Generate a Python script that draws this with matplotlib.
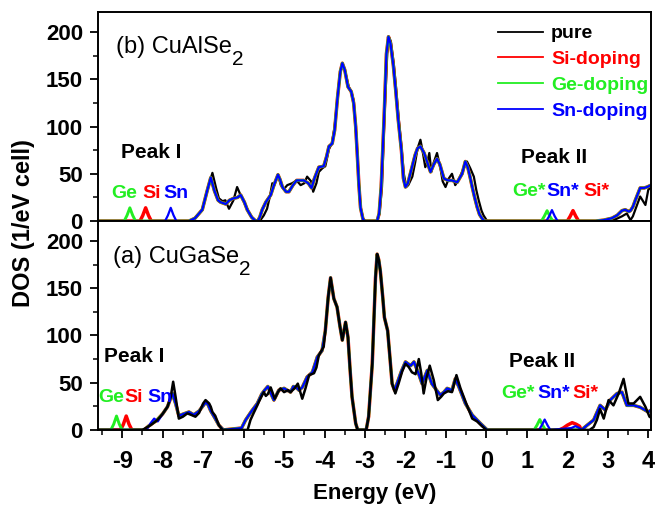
import numpy as np
import matplotlib
matplotlib.use("Agg")
import matplotlib.pyplot as plt
from matplotlib.ticker import MultipleLocator

plt.rcParams['font.family'] = ['Liberation Sans', 'DejaVu Sans']

# colores
c_pure = 'black'
c_si = '#ff0000'
c_ge = '#22ee22'
c_sn = '#0000ff'

# ---------- (b) CuAlSe2 : puro ----------
b_pure_E = [-9.6, -7.35, -7.2, -7.02, -6.9, -6.77, -6.68, -6.61, -6.52, -6.45, -6.36, -6.25, -6.16, -6.08,
            -5.99, -5.9, -5.8, -5.72, -5.6, -5.5, -5.42, -5.35, -5.29, -5.24, -5.21, -5.15, -5.08, -5.0,
            -4.92, -4.8, -4.69, -4.59, -4.5, -4.43, -4.33, -4.28, -4.2, -4.14, -4.05, -3.98, -3.89, -3.82,
            -3.75, -3.68, -3.62, -3.56, -3.5, -3.4, -3.34, -3.28, -3.23, -3.19, -3.15, -3.11, -3.05, -3.0,
            -2.7, -2.64, -2.58, -2.52, -2.45, -2.41, -2.36, -2.29, -2.23, -2.17, -2.1, -2.04, -1.98, -1.93,
            -1.83, -1.76, -1.7, -1.63, -1.58, -1.51, -1.46, -1.41, -1.36, -1.3, -1.22, -1.14, -1.08, -1.01,
            -0.93, -0.85, -0.77, -0.68, -0.6, -0.48, -0.4, -0.31, -0.25, -0.19, -0.12, -0.07, 0.02,
            2.9, 3.2, 3.35, 3.47, 3.56, 3.62, 3.68, 3.8, 3.93, 4.0, 4.07]
b_pure_D = [0, 0, 3, 12, 32, 51, 35, 24, 21, 22, 13, 22, 36, 28,
            20, 12, 4, 0, 0, 6, 13, 26, 40, 38, 42, 49, 38, 34,
            38, 40, 43, 38, 40, 47, 42, 31, 40, 52, 56, 58, 76, 82,
            100, 130, 155, 167, 160, 142, 137, 128, 100, 72, 40, 15, 3, 0,
            0, 8, 36, 107, 177, 195, 190, 167, 140, 110, 80, 50, 36, 38,
            47, 62, 77, 86, 75, 57, 62, 72, 52, 62, 72, 57, 42, 36,
            45, 50, 38, 44, 52, 63, 56, 47, 33, 22, 11, 6, 0,
            0, 2, 5, 8, 1, 5, 12, 26, 17, 33, 36]

# (b) dopados: banda de valencia comun
b_dop_vb_E = [-7.35, -7.2, -7.02, -6.9, -6.81, -6.72, -6.63, -6.57, -6.44, -6.35, -6.25, -6.15, -6.07, -5.98,
              -5.91, -5.8, -5.7, -5.65, -5.6, -5.54, -5.45, -5.33, -5.25, -5.15, -5.1, -5.04, -4.95, -4.88,
              -4.78, -4.69, -4.6, -4.51, -4.4, -4.32, -4.25, -4.14, -4.02, -3.95, -3.89, -3.81, -3.75, -3.68,
              -3.61, -3.56, -3.5, -3.42, -3.34, -3.28, -3.23, -3.19, -3.15, -3.11, -3.05, -3.0,
              -2.7, -2.65, -2.6, -2.53, -2.47, -2.42, -2.37, -2.3, -2.24, -2.18, -2.1, -2.05, -2.0, -1.94,
              -1.85, -1.76, -1.7, -1.63, -1.54, -1.46, -1.38, -1.3, -1.22, -1.15, -1.05, -0.95, -0.85, -0.72,
              -0.6, -0.52, -0.46, -0.4, -0.35, -0.29, -0.23, -0.17, -0.11, -0.05]
b_dop_vb_D = [0, 3, 12, 32, 46, 32, 22, 20, 18, 22, 24, 25, 27.5, 20,
              12, 4, 0, 0, 4, 12, 20, 27.5, 38, 49, 44, 36, 31, 31,
              38, 43, 43, 43, 40, 35, 45, 57, 58, 68, 79, 82, 96, 130,
              158, 167, 160, 142, 137, 125, 100, 70, 38, 14, 2, 0,
              0, 8, 36, 107, 177, 195, 188, 165, 138, 108, 75, 45, 36, 40,
              55, 70, 77, 79, 72, 62, 52, 60, 66, 60, 45, 43, 43, 41,
              50, 63, 57, 46, 36, 25, 15, 7, 3, 0]
b_dop_cb_E = [2.7, 2.9, 3.1, 3.23, 3.35, 3.43, 3.52, 3.56, 3.62, 3.68, 3.8, 3.9, 3.97, 4.07]
b_dop_cb_D = [0, 1, 3, 6, 11, 12, 10, 11, 15, 22, 35, 35, 36, 38]

# (b) picos de impureza
b_ge_lo_E = [-9.6, -8.95, -8.88, -8.81, -8.74, -8.67]
b_ge_lo_D = [0, 0, 6, 14, 6, 0]
b_ge_gap_E = [0.5, 1.36, 1.43, 1.5, 1.57, 1.64]
b_ge_gap_D = [0, 0, 5, 11, 5, 0]
b_si_lo_E = [-9.6, -8.56, -8.49, -8.42, -8.35, -8.28]
b_si_lo_D = [0, 0, 6, 14, 6, 0]
b_si_gap_E = [0.5, 2.0, 2.07, 2.14, 2.21, 2.28]
b_si_gap_D = [0, 0, 5, 11, 5, 0]
b_sn_lo_E = [-9.6, -7.94, -7.87, -7.8, -7.73, -7.66]
b_sn_lo_D = [0, 0, 6, 14, 6, 0]
b_sn_gap_E = [0.5, 1.48, 1.55, 1.62, 1.69, 1.76]
b_sn_gap_D = [0, 0, 5, 11.6, 5, 0]

# ---------- (a) CuGaSe2 : puro ----------
a_pure_E = [-9.6, -8.5, -8.42, -8.3, -8.13, -8.0, -7.88, -7.8, -7.74, -7.68, -7.6, -7.5, -7.39, -7.3,
            -7.19, -7.1, -7.0, -6.94, -6.85, -6.81, -6.77, -6.7, -6.61, -6.52, -5.9, -5.83, -5.75, -5.66,
            -5.62, -5.55, -5.5, -5.45, -5.4, -5.33, -5.23, -5.15, -5.09, -5.0, -4.9, -4.84, -4.74, -4.66,
            -4.55, -4.47, -4.38, -4.26, -4.2, -4.14, -4.02, -3.98, -3.91, -3.85, -3.77, -3.69, -3.62, -3.56,
            -3.48, -3.42, -3.37, -3.32, -3.23, -3.18, -2.97, -2.91, -2.82, -2.74, -2.7, -2.66, -2.62, -2.56,
            -2.52, -2.44, -2.38, -2.33, -2.25, -2.17, -2.08, -2.0, -1.92, -1.84, -1.75, -1.67, -1.61, -1.55,
            -1.48, -1.4, -1.3, -1.2, -1.12, -1.05, -0.95, -0.85, -0.74, -0.64, -0.56, -0.48, -0.35, -0.23,
            -0.11, 0.0, 2.55, 2.65, 2.73, 2.81, 2.9, 3.02, 3.14, 3.27, 3.39, 3.51, 3.64, 3.8, 3.93, 4.03, 4.07]
a_pure_D = [0, 0, 2, 5, 10.5, 17, 24.5, 35, 51, 35, 12, 14, 17.5, 16,
            14, 18, 28, 31.6, 28, 24.5, 19, 15, 5, 0, 0, 10.5, 18, 26,
            30, 36, 40, 36, 38, 45, 33, 40, 44, 40, 42, 40, 44, 49,
            33, 44, 58, 60, 66, 79, 88, 105, 140, 161, 139, 130, 110, 95,
            114, 98, 65, 35, 7, 0, 0, 14, 70, 161, 186, 180, 168, 140,
            119, 105, 75, 49, 38.6, 49, 62, 70, 66.6, 61, 59, 75, 60, 38.6,
            55, 68, 52.6, 31.6, 35, 38.6, 41, 40, 58, 44, 35, 26, 12, 9,
            4, 0, 0, 3, 10.5, 22, 12, 31.6, 26, 38.6, 54, 28, 28, 35, 24.5, 14, 13]

# (a) dopados: banda de valencia comun
a_dop_vb_E = [-8.0, -7.88, -7.76, -7.68, -7.6, -7.48, -7.35, -7.23, -7.1, -7.02, -6.94, -6.88, -6.81, -6.7,
              -6.61, -6.5, -6.05, -5.95, -5.8, -5.66, -5.55, -5.48, -5.4, -5.32, -5.25, -5.13, -5.0, -4.92,
              -4.84, -4.77, -4.7, -4.63, -4.55, -4.43, -4.3, -4.18, -4.06, -3.98, -3.91, -3.85, -3.77, -3.69,
              -3.62, -3.56, -3.48, -3.42, -3.37, -3.32, -3.23, -3.18, -2.97, -2.91, -2.82, -2.74, -2.7, -2.66,
              -2.62, -2.56, -2.52, -2.44, -2.38, -2.33, -2.27, -2.2, -2.1, -2.0, -1.87, -1.79, -1.67, -1.59,
              -1.46, -1.35, -1.23, -1.14, -1.05, -0.97, -0.85, -0.77, -0.68, -0.52, -0.35, -0.15, 0.02]
a_dop_vb_D = [17, 24.5, 38.6, 28, 15, 17, 19, 16, 20, 24.5, 29, 27, 20, 12,
              5, 0, 2, 10.5, 20, 28, 38, 42, 46, 38, 31.6, 42, 44, 42,
              40, 46, 45, 42, 45, 56, 61, 77, 84, 105, 140, 161, 139, 130,
              110, 95, 114, 98, 65, 35, 7, 0, 0, 14, 70, 161, 186, 180,
              168, 140, 119, 105, 75, 49, 42, 50, 62, 72, 68, 72, 59, 49,
              63, 49, 42, 37, 40, 44, 42, 54, 45.6, 28, 15.8, 7, 0]
a_dop_cb_E = [2.35, 2.49, 2.65, 2.81, 2.94, 3.06, 3.23, 3.35, 3.47, 3.64, 3.8, 4.0, 4.07]
a_dop_cb_D = [0, 5, 10.5, 26, 21, 31.6, 38.6, 40, 26, 26, 24, 19, 21]

# (a) picos de impureza y borde de banda
a_ge_lo_E = [-9.6, -9.28, -9.21, -9.14, -9.07, -9.0, -8.45, -8.35, -8.15]
a_ge_lo_D = [0, 0, 6, 14.7, 6, 0, 0, 4, 10]
a_ge_gap_E = [0.5, 1.18, 1.25, 1.32, 1.39, 1.46]
a_ge_gap_D = [0, 0, 5, 11, 5, 0]
a_si_lo_E = [-9.6, -9.04, -8.97, -8.9, -8.83, -8.76, -8.45, -8.35, -8.15]
a_si_lo_D = [0, 0, 6, 14.7, 6, 0, 0, 4, 10]
a_si_gap_E = [0.5, 1.8, 1.9, 2.0, 2.12, 2.22, 2.3]
a_si_gap_D = [0, 0, 2, 5, 7.7, 6, 4]
a_sn_lo_E = [-9.6, -8.4, -8.3, -8.21, -8.12]
a_sn_lo_D = [0, 0, 7, 12, 9]
a_sn_gap_E = [0.5, 1.3, 1.37, 1.44, 1.51, 1.58, 2.1, 2.2, 2.3]
a_sn_gap_D = [0, 0, 5, 11, 5, 0, 2, 4, 2]

x_ticks = [-9, -8, -7, -6, -5, -4, -3, -2, -1, 0, 1, 2, 3, 4]
y_ticks = [0, 50, 100, 150, 200]

fig = plt.figure(figsize=(6.57, 5.07), dpi=100)
ax_b = fig.add_axes([0.149, 0.564, 0.842, 0.412])
ax_a = fig.add_axes([0.149, 0.152, 0.842, 0.412], sharex=ax_b)

lw = 1.6

# panel (b): negro debajo
ax_b.plot(b_pure_E, b_pure_D, color=c_pure, lw=lw, label='pure')
ax_b.plot(b_si_lo_E + b_dop_vb_E + b_si_gap_E + b_dop_cb_E,
          b_si_lo_D + b_dop_vb_D + b_si_gap_D + b_dop_cb_D, color=c_si, lw=lw + 0.9, label='Si-doping')
ax_b.plot(b_ge_lo_E + b_dop_vb_E + b_ge_gap_E + b_dop_cb_E,
          b_ge_lo_D + b_dop_vb_D + b_ge_gap_D + b_dop_cb_D, color=c_ge, lw=lw + 0.5, label='Ge-doping')
ax_b.plot(b_sn_lo_E + b_dop_vb_E + b_sn_gap_E + b_dop_cb_E,
          b_sn_lo_D + b_dop_vb_D + b_sn_gap_D + b_dop_cb_D, color=c_sn, lw=lw, label='Sn-doping')

# panel (a): negro encima
ax_a.plot(a_si_lo_E + a_dop_vb_E + a_si_gap_E + a_dop_cb_E,
          a_si_lo_D + a_dop_vb_D + a_si_gap_D + a_dop_cb_D, color=c_si, lw=lw + 0.9)
ax_a.plot(a_ge_lo_E + a_dop_vb_E + a_ge_gap_E + a_dop_cb_E,
          a_ge_lo_D + a_dop_vb_D + a_ge_gap_D + a_dop_cb_D, color=c_ge, lw=lw + 0.5)
ax_a.plot(a_sn_lo_E + a_dop_vb_E + a_sn_gap_E + a_dop_cb_E,
          a_sn_lo_D + a_dop_vb_D + a_sn_gap_D + a_dop_cb_D, color=c_sn, lw=lw)
ax_a.plot(a_pure_E, a_pure_D, color=c_pure, lw=lw + 0.2)

for ax in (ax_b, ax_a):
    ax.set_xlim(-9.6, 4.07)
    ax.set_ylim(0, 221)
    ax.set_yticks(y_ticks)
    ax.yaxis.set_minor_locator(MultipleLocator(25))
    ax.set_xticks(x_ticks)
    ax.xaxis.set_minor_locator(MultipleLocator(0.5))
    ax.tick_params(which='major', direction='out', length=5.8, width=1.3)
    ax.tick_params(which='minor', direction='out', length=3.6, width=1.1)
    ax.tick_params(axis='y', labelsize=16, pad=5)
    ax.tick_params(axis='x', labelsize=17, pad=9)
    ax.tick_params(top=False, right=False)
    for s in ax.spines.values():
        s.set_linewidth(1.4)
    for lab in ax.get_yticklabels() + ax.get_xticklabels():
        lab.set_fontweight('bold')

ax_b.tick_params(labelbottom=False)
ax_a.set_xticklabels([str(v) for v in x_ticks], fontweight='bold')
ax_a.set_xlabel('Energy (eV)', fontsize=16, fontweight='bold', labelpad=7)
fig.text(0.036, 0.56, 'DOS (1/eV cell)', rotation=90, fontsize=17, fontweight='bold',
         ha='center', va='center')

leg = ax_b.legend(loc='upper left', bbox_to_anchor=(0.703, 0.995), frameon=False, fontsize=14,
                  handlelength=2.3, handletextpad=0.4, labelspacing=0.42, borderaxespad=0.2,
                  labelcolor='linecolor')
for t in leg.get_texts():
    t.set_fontweight('bold')
for h in leg.get_lines():
    h.set_linewidth(1.3)


def formula(ax, x, y, txt):
    # texto con subindice 2 grande y bajado
    t = ax.text(x, y, txt, fontsize=17, ha='left', va='baseline')
    ax.annotate('2', xy=(1, 0), xycoords=t, xytext=(0, -5), textcoords='offset points',
                fontsize=15, ha='left', va='baseline')


# textos panel (b)
formula(ax_b, -9.16, 178, '(b) CuAlSe')
ax_b.text(-9.04, 67, 'Peak I', fontsize=15, fontweight='bold', ha='left', va='baseline')
ax_b.text(-9.28, 24, 'Ge', fontsize=14, fontweight='bold', color=c_ge, ha='left', va='baseline')
ax_b.text(-8.49, 24, 'Si', fontsize=14, fontweight='bold', color=c_si, ha='left', va='baseline')
ax_b.text(-7.98, 24, 'Sn', fontsize=14, fontweight='bold', color=c_sn, ha='left', va='baseline')
ax_b.text(0.86, 61, 'Peak II', fontsize=15, fontweight='bold', ha='left', va='baseline')
ax_b.text(0.64, 26, 'Ge*', fontsize=14, fontweight='bold', color=c_ge, ha='left', va='baseline')
ax_b.text(1.48, 26, 'Sn*', fontsize=14, fontweight='bold', color=c_sn, ha='left', va='baseline')
ax_b.text(2.40, 26, 'Si*', fontsize=14, fontweight='bold', color=c_si, ha='left', va='baseline')

# textos panel (a)
formula(ax_a, -9.23, 177, '(a) CuGaSe')
ax_a.text(-9.46, 71.6, 'Peak I', fontsize=15, fontweight='bold', ha='left', va='baseline')
ax_a.text(-9.6, 30, 'Ge', fontsize=14, fontweight='bold', color=c_ge, ha='left', va='baseline')
ax_a.text(-8.94, 30, 'Si', fontsize=14, fontweight='bold', color=c_si, ha='left', va='baseline')
ax_a.text(-8.37, 30, 'Sn', fontsize=14, fontweight='bold', color=c_sn, ha='left', va='baseline')
ax_a.text(0.57, 67, 'Peak II', fontsize=15, fontweight='bold', ha='left', va='baseline')
ax_a.text(0.37, 33.7, 'Ge*', fontsize=14, fontweight='bold', color=c_ge, ha='left', va='baseline')
ax_a.text(1.25, 33.7, 'Sn*', fontsize=14, fontweight='bold', color=c_sn, ha='left', va='baseline')
ax_a.text(2.12, 33.7, 'Si*', fontsize=14, fontweight='bold', color=c_si, ha='left', va='baseline')

fig.savefig('out.png', dpi=100)
